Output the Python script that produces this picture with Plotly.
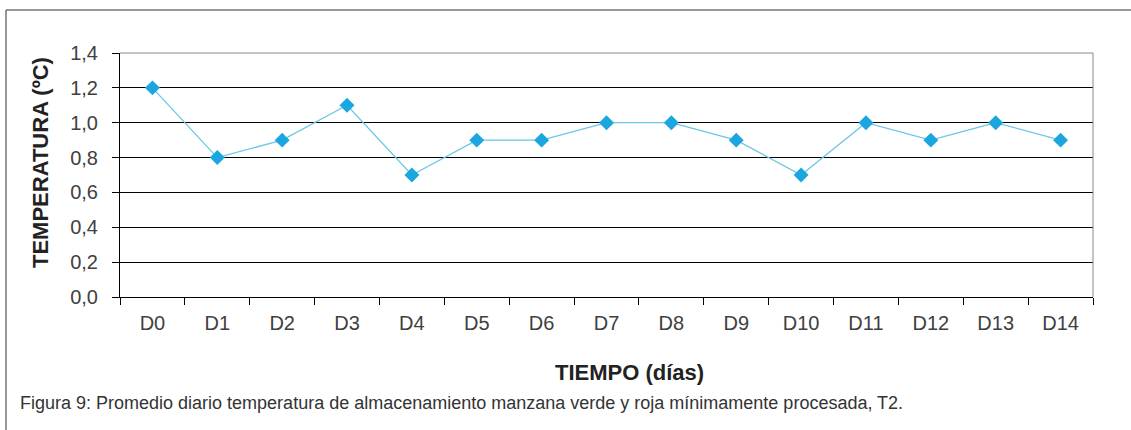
import plotly.graph_objects as go

# ── Data ──────────────────────────────────────────────────────────────────────
dias = ['D0', 'D1', 'D2', 'D3', 'D4', 'D5', 'D6', 'D7',
        'D8', 'D9', 'D10', 'D11', 'D12', 'D13', 'D14']
temperatura = [1.2, 0.8, 0.9, 1.1, 0.7, 0.9, 0.9, 1.0,
               1.0, 0.9, 0.7, 1.0, 0.9, 1.0, 0.9]
y_ticks = [0.0, 0.2, 0.4, 0.6, 0.8, 1.0, 1.2, 1.4]

FONT = 'Liberation Sans, Arial, sans-serif'
TXT = '#404040'

# plot area in page pixels
L, R, T, B = 120, 1093, 53, 297
PW, PH = R - L, B - T

fig = go.Figure()
fig.add_trace(go.Scatter(
    x=dias, y=temperatura,
    mode='lines+markers',
    line=dict(color='#6CC6E4', width=1.3),
    marker=dict(symbol='diamond', size=11.5, color='#1BA6E0', line=dict(width=0)),
    showlegend=False,
))

fig.update_layout(
    width=1131, height=430,
    paper_bgcolor='white', plot_bgcolor='white',
    separators=',.',
    font=dict(family=FONT, color=TXT),
    margin=dict(l=L, r=1131 - R, t=T, b=430 - B),
    xaxis=dict(
        showgrid=False, zeroline=False,
        showline=True, linecolor='black', linewidth=1,
        ticks='outside', ticklen=7, tickcolor='black',
        tickson='boundaries', ticklabelstandoff=8,
        tickfont=dict(size=20, color=TXT),
        range=[-0.5, 14.5],
    ),
    yaxis=dict(
        range=[0, 1.4], tickvals=y_ticks,
        tickformat='.1f',
        showgrid=True, gridcolor='black', gridwidth=1,
        zeroline=False,
        showline=True, linecolor='black', linewidth=1,
        ticks='outside', ticklen=7, tickcolor='black',
        ticklabelstandoff=10,
        tickfont=dict(size=20, color=TXT),
    ),
)

# grey frame on top and right of plot area
fig.add_shape(type='line', xref='paper', yref='paper', x0=0, x1=1, y0=1, y1=1,
              line=dict(color='#888888', width=1))
fig.add_shape(type='line', xref='paper', yref='paper', x0=1, x1=1, y0=0, y1=1,
              line=dict(color='#888888', width=1))

# outer figure border (left and top)
bx = -(L - 6) / PW
by = 1 + (T - 10) / PH
fig.add_shape(type='line', xref='paper', yref='paper',
              x0=bx, x1=bx, y0=-2, y1=by,
              line=dict(color='#333333', width=1))
fig.add_shape(type='line', xref='paper', yref='paper',
              x0=bx, x1=2, y0=by, y1=by,
              line=dict(color='#333333', width=1))

# axis titles and caption
fig.add_annotation(text='<b>TEMPERATURA (ºC)</b>', xref='paper', yref='paper',
                   x=-(L - 40) / PW, y=(B - 163) / PH, textangle=-90,
                   showarrow=False, xanchor='center', yanchor='middle',
                   font=dict(size=22, color='#222222', family=FONT))
fig.add_annotation(text='<b>TIEMPO (días)</b>', xref='paper', yref='paper',
                   x=(629 - L) / PW, y=-(372 - B) / PH,
                   showarrow=False, xanchor='center', yanchor='middle',
                   font=dict(size=22, color='#222222', family=FONT))
fig.add_annotation(text='Figura 9: Promedio diario temperatura de almacenamiento manzana verde y roja mínimamente procesada, T2.',
                   xref='paper', yref='paper',
                   x=-(L - 18) / PW, y=-(403 - B) / PH,
                   showarrow=False, xanchor='left', yanchor='middle',
                   font=dict(size=18, color='#333333', family=FONT))

fig.write_html('out.html', config={'displayModeBar': False},
               post_script="document.body.style.margin='0';")
